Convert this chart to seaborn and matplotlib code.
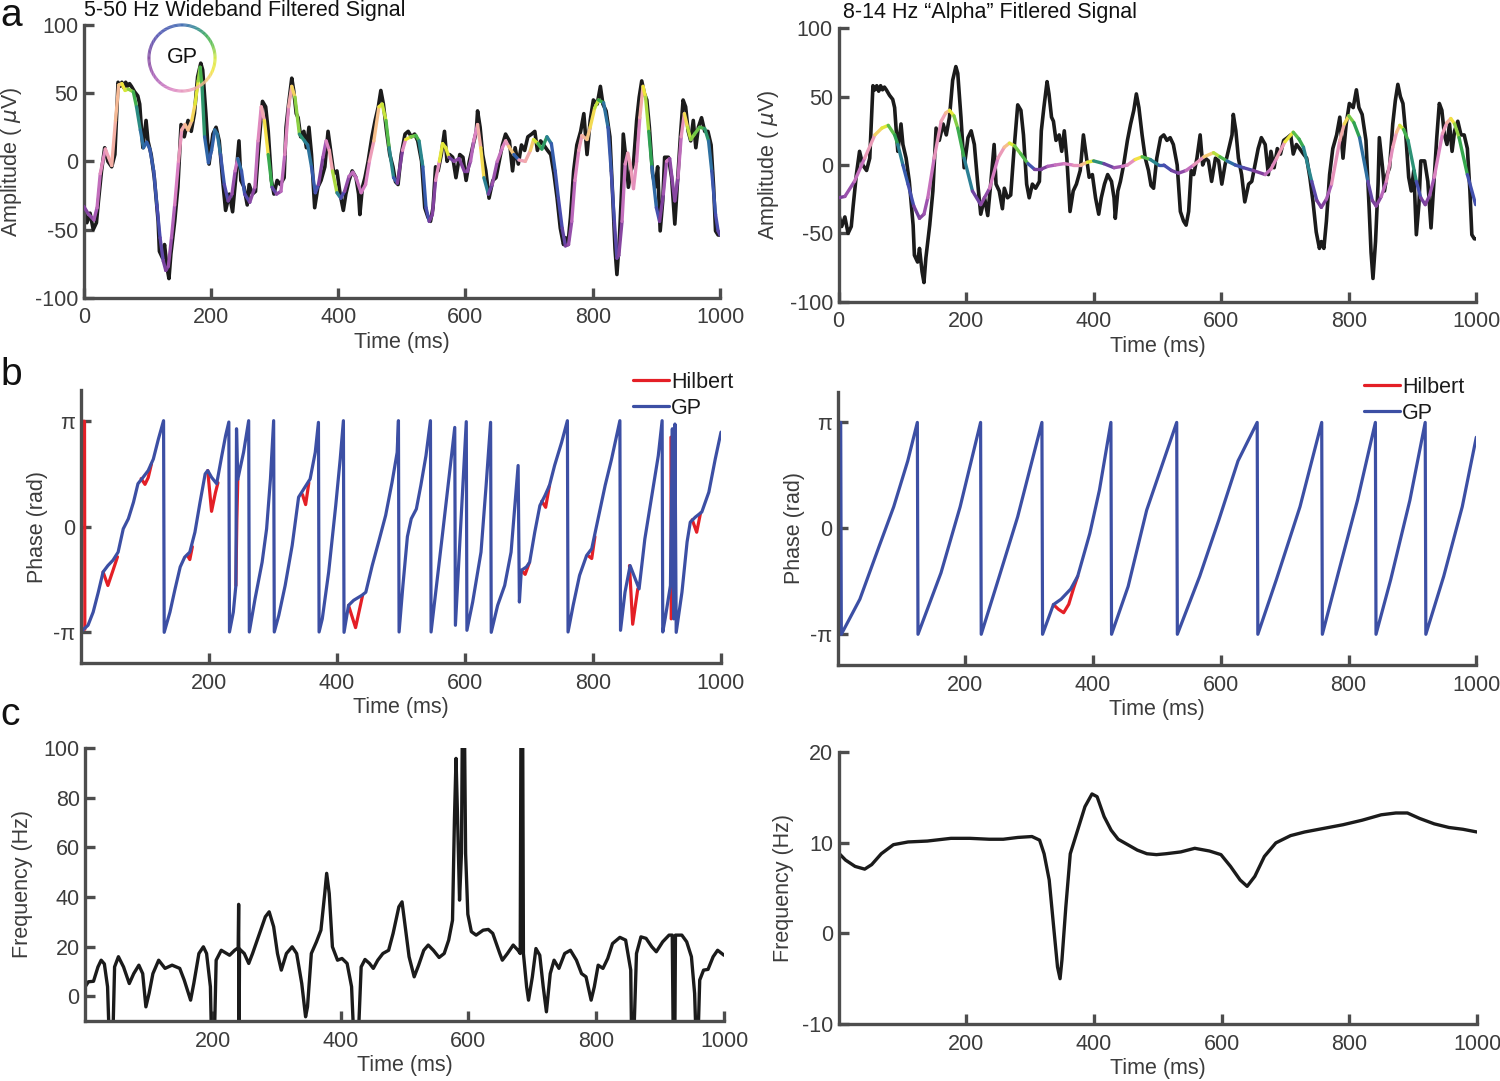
import numpy as np
import pandas as pd
import matplotlib
matplotlib.use("Agg")
import matplotlib.pyplot as plt
import seaborn as sns
from matplotlib.collections import LineCollection
from matplotlib.colors import LinearSegmentedColormap
from matplotlib.lines import Line2D

# ---- raw 5-50 Hz signal (black trace, same in both top panels) ----
sig_t = [0, 5, 10, 15, 20, 23, 28, 33, 38, 44, 49, 54, 57, 60, 63, 66, 69, 72, 75, 80,
         85, 88, 91, 93, 98, 101, 106, 111, 117, 119, 124, 127, 131, 134, 137, 143, 148, 153, 158, 164,
         169, 174, 179, 184, 187, 192, 197, 203, 208, 213, 218, 223, 229, 234, 239, 244, 247, 252, 257, 260,
         265, 270, 275, 281, 286, 290, 295, 299, 304, 309, 315, 318, 322, 327, 330, 334, 337, 341, 346, 350,
         354, 358, 363, 368, 373, 379, 384, 389, 393, 398, 403, 408, 412, 417, 422, 428, 432, 434, 438, 442,
         447, 453, 458, 463, 467, 471, 476, 481, 486, 490, 494, 499, 505, 510, 515, 520, 525, 531, 536, 541,
         545, 549, 553, 557, 562, 567, 571, 575, 580, 585, 591, 596, 601, 606, 611, 617, 619, 623, 627, 632,
         637, 643, 648, 653, 658, 663, 669, 674, 678, 683, 688, 693, 698, 704, 709, 713, 718, 723, 729, 734,
         739, 744, 749, 754, 757, 761, 765, 770, 775, 781, 786, 791, 796, 801, 807, 812, 816, 821, 827, 832,
         835, 838, 842, 846, 848, 853, 856, 860, 864, 869, 873, 877, 881, 885, 889, 894, 898, 902, 906, 910,
         913, 919, 924, 929, 934, 938, 942, 946, 950, 954, 958, 962, 966, 971, 976, 981, 986, 990, 993, 997, 1000]
sig_v = [-35, -45, -38, -50, -45, -30, -7, 10, 0, -4, 5, 58, 55, 58, 54, 58, 55, 57, 55, 51,
         48, 42, 22, 10, 30, 15, 5, -12, -44, -66, -71, -61, -78, -86, -68, -44, -19, 27, 18, 30,
         22, 35, 62, 72, 67, 35, -2, 20, 25, 15, -12, -36, -24, -37, -12, 15, -14, -19, -32, -17,
         -24, -22, 10, 44, 40, 22, -14, -24, -14, -17, -12, 25, 42, 61, 52, 35, 32, 18, 22, 10,
         25, 5, -34, -19, -14, -4, 22, 5, -9, -7, -24, -36, -24, -14, -7, -12, -24, -39, -19, -12,
         0, 18, 30, 40, 52, 42, 22, 5, -4, -15, -17, 5, 20, 22, 18, 20, 15, 0, -34, -41,
         -44, -34, -4, -7, 5, 22, 0, 5, 3, -12, 5, 3, -14, 0, 10, 22, 37, 25, 5, -7,
         -27, -14, -12, 0, 12, 20, 15, -7, 10, -2, 12, 8, 18, 20, 22, 8, 15, 12, 8, 5,
         -9, -27, -49, -61, -56, -61, -41, -7, 12, 22, 35, 5, 30, 45, 42, 55, 42, 37, 18, -32,
         -64, -83, -56, -14, 20, -2, -19, -7, -2, 30, 47, 59, 50, 45, 25, -9, -19, -4, -51, -29,
         3, 3, -12, -46, -9, 20, 45, 40, 22, 15, 30, 10, 25, 32, 22, 22, 12, -19, -51, -54, -54]

# ---- GP fit of the wideband signal (coloured by phase) ----
gp_wb_t = [0, 8, 16, 21, 26, 34, 39, 44, 50, 55, 60, 65, 70, 78, 83, 89, 94, 99, 104, 110,
           115, 120, 125, 129, 133, 138, 143, 149, 154, 159, 164, 170, 175, 180, 183, 186, 190, 196, 201, 206,
           210, 215, 221, 227, 233, 238, 242, 248, 253, 261, 269, 274, 279, 284, 290, 296, 303, 310, 316, 322,
           327, 332, 339, 347, 352, 358, 364, 369, 376, 381, 386, 391, 398, 404, 410, 417, 423, 428, 436, 443,
           449, 456, 464, 469, 475, 480, 487, 493, 501, 506, 514, 522, 527, 533, 538, 543, 548, 553, 559, 564,
           569, 574, 582, 590, 598, 603, 608, 613, 619, 624, 629, 636, 642, 650, 658, 663, 668, 676, 684, 694,
           702, 707, 714, 720, 728, 735, 741, 746, 752, 757, 762, 767, 772, 778, 783, 791, 796, 803, 809, 817,
           824, 829, 834, 838, 841, 846, 851, 855, 859, 864, 869, 874, 879, 883, 888, 893, 900, 905, 911, 916,
           921, 925, 929, 934, 939, 944, 949, 954, 960, 968, 976, 982, 987, 993, 997, 1000]
gp_wb_v = [-33, -39, -43, -34, -9, 9, 3, -3, 30, 56, 57, 52, 53, 51, 40, 23, 10, 14, 9, -7,
           -32, -56, -73, -80, -77, -56, -32, 0, 23, 27, 23, 30, 42, 59, 69, 55, 18, -1, 8, 23,
           20, 5, -17, -29, -24, -7, 2, -7, -24, -30, -19, 15, 40, 30, 5, -19, -24, -22, 5, 40,
           55, 47, 20, 15, 12, -4, -23, -17, 3, 15, 8, -7, -23, -27, -22, -11, -8, -12, -23, -17,
           0, 15, 40, 42, 30, 10, -12, -16, 8, 16, 18, 19, 15, -4, -34, -44, -39, -14, 0, 13,
           10, 3, 0, 2, -7, -7, 0, 15, 27, 10, -12, -24, -17, 0, 10, 15, 11, 5, 1, 0,
           8, 16, 13, 9, 18, 13, -7, -27, -49, -62, -61, -44, -14, 8, 19, 16, 25, 39, 45, 43,
           25, -7, -44, -71, -69, -44, -2, 6, -2, -20, 0, 32, 55, 47, 22, -4, -34, -44, -24, 0,
           2, -14, -29, -12, 18, 35, 25, 16, 20, 25, 24, 15, -7, -39, -51, -54]

# ---- GP fit of the 8-14 Hz alpha signal ----
gp_al_t = [0, 10, 25, 41, 57, 68, 78, 88, 93, 101, 109, 118, 127, 134, 140, 150, 161, 168, 174, 181,
           187, 197, 210, 223, 237, 250, 260, 268, 276, 286, 297, 307, 318, 328, 340, 354, 367, 380, 390, 400,
           416, 432, 445, 453, 465, 476, 489, 502, 510, 522, 533, 545, 557, 573, 588, 598, 609, 622, 635, 650,
           669, 678, 687, 700, 713, 722, 729, 742, 750, 757, 765, 773, 786, 793, 800, 808, 817, 830, 837, 843,
           851, 859, 869, 875, 880, 886, 893, 906, 913, 920, 927, 934, 947, 954, 960, 966, 973, 986, 999]
gp_al_v = [-24, -23, -12, 5, 22, 27, 29, 22, 15, 0, -14, -30, -39, -36, -24, 5, 32, 38, 40, 36,
           27, 5, -19, -29, -17, 5, 13, 16, 14, 8, 1, -3, -3, -1, 0, 1, 0, 0, 2, 3,
           1, -2, -1, 0, 4, 6, 4, 0, 0, -4, -6, -4, 0, 6, 9, 6, 3, 0, -2, -4,
           -7, -3, 5, 17, 24, 19, 13, -12, -26, -31, -25, -14, 18, 30, 36, 31, 20, -12, -26, -30,
           -23, -12, 13, 24, 29, 26, 18, -12, -24, -29, -22, -9, 23, 31, 34, 30, 20, -7, -29]

# ---- phase, wideband (GP) ----
ph_wb_t = [0, 11, 19, 27, 34.5, 42, 50, 58, 66, 74, 82, 89, 97, 105, 113, 121, 129, 130, 139, 147,
           155, 162, 170, 178, 186, 194, 198, 204, 212, 220, 226, 231, 232, 238, 242, 243, 245, 254, 262, 263,
           272, 283, 290, 296, 301, 302, 309, 319, 330, 340, 350, 358, 366, 371, 372, 377, 387, 398, 405, 410,
           411, 418, 426, 439, 445, 455, 465, 476, 486, 494, 496, 497, 503, 510, 516, 524, 531, 539, 546, 547,
           565, 584, 585, 602, 603, 612, 625, 633, 640, 641, 651, 662, 672, 683, 685, 688, 696, 701, 709, 717,
           725, 732, 740, 751, 760, 761, 769, 779, 790, 798, 808, 819, 829, 842, 843, 850, 858, 872, 881, 892,
           902, 908, 909, 913, 921, 924, 926, 928, 930, 939, 947, 952, 960, 970, 981, 991, 1000]
ph_wb = [-3.12, -2.93, -2.54, -1.95, -1.35, -1.16, -1.00, -0.76, -0.07, 0.23, 0.72, 1.27, 1.46, 1.66, 2.00, 2.60, 3.14, -3.14, -2.54, -1.85,
         -1.20, -0.91, -0.76, -0.17, 0.72, 1.56, 1.66, 1.46, 1.27, 2.10, 2.70, 3.10, -3.13, -2.54, -1.75, 2.90, 1.40, 2.20, 3.14, -3.13,
         -2.14, -1.06, -0.07, 1.41, 3.14, -3.13, -2.64, -1.75, -0.56, 0.87, 1.17, 1.41, 2.20, 3.09, -3.13, -2.74, -1.35, 0.62, 2.00, 3.14,
         -3.14, -2.34, -2.19, -2.04, -1.95, -1.16, -0.46, 0.33, 1.31, 2.20, 3.14, -3.13, -1.75, -0.30, 0.23, 0.52, 1.22, 2.10, 3.14, -3.13,
         -0.20, 2.94, -2.93, 3.11, -3.08, -2.24, -0.76, 1.22, 3.09, -3.14, -2.34, -1.75, -0.76, 1.81, -2.24, -1.30, -1.20, -1.06, -0.17, 0.62,
         0.92, 1.22, 1.81, 2.50, 3.14, -3.13, -2.34, -1.45, -0.86, -0.66, 0.23, 1.22, 2.00, 3.14, -3.08, -1.95, -1.16, -1.85, -0.37, 0.92,
         2.10, 3.14, -3.13, -2.70, -1.75, 2.90, -2.74, 3.04, -3.14, -1.95, -0.46, 0.13, 0.28, 0.43, 1.02, 2.00, 2.80]

# Hilbert phase, wideband: only the pieces where it departs from GP
hil_wb_t = [0, 5.5, 6,
            34.5, 42, 50, 57,
            94, 100, 105, 110,
            166, 170, 174,
            198, 204, 210, 214,
            242, 243.5, 245,
            346, 351, 356,
            418, 429, 440,
            688, 694, 700,
            720, 726, 732,
            792, 798, 803,
            857, 862, 870,
            921.8, 922.2,
            955, 962, 968]
hil_wb = [3.12, 3.12, -3.05,
          -1.35, -1.75, -1.30, -0.90,
          1.42, 1.25, 1.45, 1.85,
          -0.85, -0.98, -0.60,
          1.66, 0.45, 1.00, 1.30,
          -1.75, 0.20, 1.40,
          0.95, 0.65, 1.30,
          -2.34, -3.00, -2.04,
          -1.30, -1.42, -1.10,
          0.75, 0.57, 1.22,
          -0.86, -0.95, -0.30,
          -1.16, -2.90, -1.85,
          2.65, -2.74,
          0.20, -0.17, 0.40]
hil_wb_seg = [0, 0, 0, 1, 1, 1, 1, 2, 2, 2, 2, 3, 3, 3, 4, 4, 4, 4, 5, 5, 5,
              6, 6, 6, 7, 7, 7, 8, 8, 8, 9, 9, 9, 10, 10, 10, 11, 11, 11, 12, 12, 13, 13, 13]

# ---- phase, alpha (GP) ----
ph_al_t = [0, 5, 6, 35, 65, 88, 110, 125, 126, 162, 192, 224, 225, 252, 282, 320, 321, 338, 350, 365,
           376, 395, 410, 428, 429, 455, 484, 514, 531, 532, 567, 597, 627, 657, 658, 687, 724, 758, 759, 784,
           814, 842, 843, 866, 896, 920, 921, 949, 978, 1000]
ph_al = [3.00, 3.14, -3.14, -2.10, -0.54, 0.64, 2.00, 3.14, -3.14, -1.32, 0.64, 3.14, -3.14, -1.50, 0.34, 3.14, -3.14, -2.26, -2.10, -1.80,
         -1.42, -0.15, 1.13, 3.14, -3.14, -1.72, 0.54, 2.20, 3.14, -3.14, -1.42, 0.25, 2.00, 3.14, -3.14, -1.52, 0.64, 3.14, -3.14, -1.32,
         0.83, 3.14, -3.14, -1.52, 0.83, 3.14, -3.14, -1.42, 0.64, 2.70]
hil_al_t = [338, 346, 354, 362, 370, 376]
hil_al = [-2.26, -2.40, -2.50, -2.25, -1.75, -1.42]

# ---- instantaneous frequency ----
fr_wb_t = [0, 5, 13, 20, 25, 30, 35, 38, 43, 46, 52, 60, 69, 76, 84, 90, 95, 100, 106, 115,
           125, 136, 148, 155, 165, 170, 178, 185, 190, 196, 198, 202, 205, 213, 226, 234, 239.5, 240.2, 240.8, 241.6,
           249, 256, 262, 271, 282, 288, 295, 301, 307, 315, 324, 331, 339, 345, 348, 354, 362, 369, 375, 378,
           382, 387, 395, 402, 410, 417, 421, 427, 432, 438, 445, 451, 458, 466, 475, 482, 491, 496, 501, 507,
           515, 522, 530, 537, 545, 554, 562, 569, 575, 578, 580.5, 583, 586, 589, 591, 593, 595.5, 599, 604.5, 612,
           623, 631, 638, 649, 653, 661, 670, 677.5, 681, 682.4, 684.6, 686, 691, 694, 700, 705.6, 711.6, 717, 722, 728,
           734, 741.6, 750.6, 759.6, 769, 777, 784, 792, 797, 803, 810.5, 818, 825.5, 837, 846, 854, 855.5, 858.4, 863, 870,
           878, 887, 894, 904, 914, 919, 920.6, 923, 924, 934, 941.6, 949, 954, 956.6, 959, 962, 968, 975, 983, 990, 1000]
fr_wb = [3.8, 5.8, 6, 11.8, 14.5, 13, 3.8, -20, -20, 11.8, 15.9, 11.8, 5.1, 9.1, 12.5, 9.1, -4.3, 1.1, 9.1, 14.5,
         11.2, 12.5, 11.2, 6.5, -1.6, 5.1, 17.2, 19.9, 17.2, 3.8, -20, -20, 14.5, 18.5, 16.5, 18.5, 19.5, 37, -20, 19,
         17.2, 13.2, 17.2, 23.9, 32, 34, 28, 17.2, 10.5, 17.2, 19.9, 17.2, 5.1, -8.3, -4.3, 17.2, 21.9, 26.6, 41.4, 49.5,
         41.4, 19.9, 14.5, 15.2, 13.2, 3.8, -20, -20, 11.8, 14.8, 13.2, 11.2, 14.5, 17.2, 18.5, 25.3, 36, 38, 28, 15.9,
         7.8, 12.5, 18.5, 20.6, 18.5, 15.6, 17.2, 22.6, 30.6, 71, 95.8, 71, 38.7, 57.5, 130, 130, 57.5, 33, 26, 24.6,
         26.6, 26.9, 25.3, 17.2, 14.5, 17.2, 20.6, 18.5, 17.2, 130, 130, 17.2, 3.8, -1.6, 7.8, 19.2, 16.5, 3.8, -6.3, 9.1,
         14.5, 11.2, 17.2, 18.5, 14.5, 9.1, 7.8, -1.6, 3.8, 12.5, 11.2, 15.2, 21.2, 23.7, 22.6, 10.5, -20, -20, 17.2, 23.9,
         23.3, 19.9, 17.9, 21.9, 24.6, 24.6, -20, -20, 24.6, 24.6, 21.9, 15.9, 1.1, -20, -20, 6.5, 10.5, 10.8, 15.9, 18.5, 16.5]

fr_al_t = [0, 11, 26, 41, 52, 67, 86, 109, 139, 176, 206, 236, 258, 281, 303, 315, 322, 330, 337, 343,
           347, 350, 356, 363, 374.5, 386, 397, 405, 416, 427, 438, 453, 468, 483, 498, 513, 536, 558, 581, 599,
           614, 629, 640, 652, 667, 685, 708, 730, 760, 790, 820, 850, 873, 891, 910, 933, 956, 978, 1000]
fr_al = [8.9, 8.1, 7.4, 7.1, 7.6, 8.8, 9.8, 10.1, 10.2, 10.5, 10.5, 10.4, 10.4, 10.6, 10.7, 10.3, 8.8, 5.9, 0.7, -3.7,
         -5.0, -2.9, 2.9, 8.8, 11.4, 14.0, 15.4, 15.1, 12.9, 11.4, 10.4, 9.8, 9.2, 8.8, 8.7, 8.8, 9.0, 9.4, 9.1, 8.7,
         7.4, 5.9, 5.2, 6.3, 8.5, 10.0, 10.8, 11.2, 11.6, 12.0, 12.5, 13.1, 13.3, 13.3, 12.7, 12.1, 11.7, 11.5, 11.2]

# ---- styling ----
sns.set_theme(style="ticks")
plt.rcParams["font.family"] = ["Liberation Sans", "DejaVu Sans"]
plt.rcParams["mathtext.fontset"] = "dejavusans"
plt.rcParams["axes.unicode_minus"] = False

AX_GRAY = "#4d4d4d"
TXT_GRAY = "#3c3c3c"
BLUE = "#3c4fa4"
RED = "#e41f26"
BLACK = "#1b1b1b"
FS = 15.5

PHASE_CMAP = LinearSegmentedColormap.from_list("gp_phase", [
    (0.000, "#7d3f9b"), (0.100, "#a95cb6"), (0.195, "#d97fc2"), (0.300, "#f0a2b6"),
    (0.370, "#f6c08a"), (0.435, "#f2e63a"), (0.500, "#d2e83a"), (0.560, "#62c24a"),
    (0.620, "#2fa44f"), (0.680, "#2a8590"), (0.745, "#3160ac"), (0.880, "#4a4caf"),
    (1.000, "#7d3f9b")])

fig = plt.figure(figsize=(15, 10.81), dpi=100)
W, H = 1500, 1081


def px_axes(x0, y0, x1, y1):
    return fig.add_axes([x0 / W, 1 - y1 / H, (x1 - x0) / W, (y1 - y0) / H])


def style_axes(ax, ylab, ylab_x):
    for s in ["top", "right"]:
        ax.spines[s].set_visible(False)
    for s in ["left", "bottom"]:
        ax.spines[s].set_linewidth(2.4)
        ax.spines[s].set_color(AX_GRAY)
    ax.tick_params(direction="in", length=7, width=2.4, color=AX_GRAY,
                   labelcolor=TXT_GRAY, labelsize=FS)
    ax.tick_params(axis="x", pad=7)
    ax.tick_params(axis="y", pad=4)
    ax.set_xlabel("Time (ms)", fontsize=FS, color=TXT_GRAY)
    ax.set_ylabel(ylab, fontsize=FS, color=TXT_GRAY)
    ax.xaxis.set_label_coords(0.5, -0.124)
    ax.yaxis.set_label_coords(ylab_x, 0.5)
    ax.grid(False)


def phase_colored(ax, t, v, pt, pph):
    t = np.asarray(t, float)
    pts = np.column_stack([t, v])
    segs = np.stack([pts[:-1], pts[1:]], axis=1)
    tm = (t[:-1] + t[1:]) / 2
    ang = np.arctan2(np.interp(tm, pt, np.sin(pph)), np.interp(tm, pt, np.cos(pph)))
    lc = LineCollection(segs, colors=PHASE_CMAP((ang + np.pi) / (2 * np.pi)),
                        linewidths=2.4, capstyle="round", joinstyle="round", zorder=3)
    ax.add_collection(lc)


# ---- row a ----
ax_a1 = px_axes(83.7, 25, 720, 297.7)
ax_a2 = px_axes(838.5, 28.3, 1476.3, 301.7)
for ax, gt, gv, pt, pph in [(ax_a1, gp_wb_t, gp_wb_v, ph_wb_t, ph_wb),
                            (ax_a2, gp_al_t, gp_al_v, ph_al_t, ph_al)]:
    sns.lineplot(x=sig_t, y=sig_v, ax=ax, color=BLACK, linewidth=2.6,
                 estimator=None, sort=False)
    phase_colored(ax, gt, gv, pt, pph)
    ax.set_xlim(0, 1000)
    ax.set_ylim(-100, 100)
    ax.set_xticks(range(0, 1001, 200))
    ax.set_yticks([-100, -50, 0, 50, 100])
style_axes(ax_a1, "Amplitude ( $\\mu$V)", -0.094)
style_axes(ax_a2, "Amplitude ( $\\mu$V)", -0.090)

# GP phase ring legend
ax_ring = fig.add_axes([(182 - 40) / W, 1 - (58 + 40) / H, 80 / W, 80 / H])
ang = np.linspace(-np.pi, np.pi, 241)
ring = np.column_stack([np.cos(ang), np.sin(ang)])
ring_segs = np.stack([ring[:-1], ring[1:]], axis=1)
ax_ring.add_collection(LineCollection(ring_segs, colors=PHASE_CMAP((ang[:-1] + np.pi) / (2 * np.pi)),
                                      linewidths=2.2))
ax_ring.set_xlim(-1.21, 1.21)
ax_ring.set_ylim(-1.21, 1.21)
ax_ring.set_axis_off()
ax_ring.patch.set_alpha(0)
ax_ring.text(0, 0.02, "GP", ha="center", va="center", fontsize=FS, color="#111111")

# ---- row b ----
ax_b1 = px_axes(81, 390, 721, 663)
ax_b2 = px_axes(837.5, 391.7, 1476.3, 665)
hil_df = pd.DataFrame({"t": hil_wb_t, "ph": hil_wb, "seg": hil_wb_seg})
sns.lineplot(data=hil_df, x="t", y="ph", units="seg", estimator=None, sort=False,
             ax=ax_b1, color=RED, linewidth=2.3, legend=False)
sns.lineplot(x=ph_wb_t, y=ph_wb, ax=ax_b1, color=BLUE, linewidth=2.3,
             estimator=None, sort=False)
sns.lineplot(x=hil_al_t, y=hil_al, ax=ax_b2, color=RED, linewidth=2.3,
             estimator=None, sort=False)
sns.lineplot(x=ph_al_t, y=ph_al, ax=ax_b2, color=BLUE, linewidth=2.3,
             estimator=None, sort=False)
for ax, lx, ly, yx in [(ax_b1, 633, 372, -0.052), (ax_b2, 1364, 377, -0.051)]:
    ax.set_xlim(0, 1000)
    ax.set_ylim(-4.05, 4.05)
    ax.set_xticks(range(200, 1001, 200))
    ax.set_yticks([-np.pi, 0, np.pi])
    ax.set_yticklabels(["-π", "0", "π"])
    style_axes(ax, "Phase (rad)", yx)
    handles = [Line2D([], [], color=RED, lw=2.3, label="Hilbert"),
               Line2D([], [], color=BLUE, lw=2.3, label="GP")]
    leg = ax.legend(handles=handles, loc="upper left", bbox_to_anchor=(lx / W, 1 - ly / H),
                    bbox_transform=fig.transFigure, frameon=False, fontsize=FS,
                    handlelength=1.65, handletextpad=0.12, borderpad=0, borderaxespad=0,
                    labelspacing=0.22)
    for txt in leg.get_texts():
        txt.set_color("#1a1a1a")

# ---- row c ----
ax_c1 = px_axes(85.2, 748, 724, 1021)
ax_c2 = px_axes(838.5, 752.3, 1477, 1024)
sns.lineplot(x=fr_wb_t, y=fr_wb, ax=ax_c1, color=BLACK, linewidth=2.4,
             estimator=None, sort=False)
sns.lineplot(x=fr_al_t, y=fr_al, ax=ax_c2, color=BLACK, linewidth=2.4,
             estimator=None, sort=False)
ax_c1.set_ylim(-10, 100)
ax_c1.set_yticks(range(0, 101, 20))
ax_c2.set_ylim(-10, 20)
ax_c2.set_yticks([-10, 0, 10, 20])
for ax, yx in [(ax_c1, -0.082), (ax_c2, -0.070)]:
    ax.set_xlim(0, 1000)
    ax.set_xticks(range(200, 1001, 200))
    style_axes(ax, "Frequency (Hz)", yx)

# ---- titles and panel letters ----
fig.text(84 / W, 1 - 16 / H, "5-50 Hz Wideband Filtered Signal", fontsize=FS,
         color="#111111", va="baseline", ha="left")
fig.text(843 / W, 1 - 18 / H, "8-14 Hz \u201cAlpha\u201d Fitlered Signal", fontsize=FS,
         color="#111111", va="baseline", ha="left")
for letter, yb in [("a", 26), ("b", 385), ("c", 725)]:
    fig.text(0.5 / W, 1 - yb / H, letter, fontsize=28, color="#111111",
             va="baseline", ha="left")

fig.savefig("out.png", dpi=100)
